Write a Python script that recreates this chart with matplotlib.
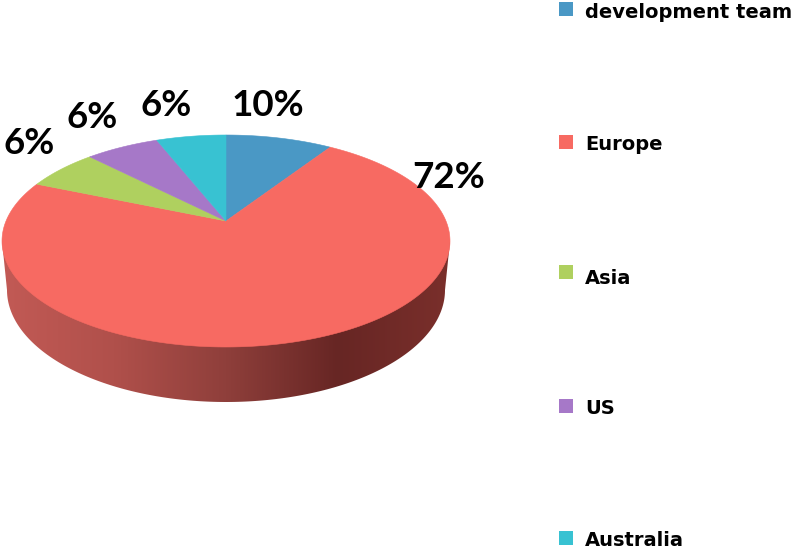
import numpy as np
import matplotlib
matplotlib.use("Agg")
import matplotlib.pyplot as plt
from matplotlib.colors import LinearSegmentedColormap
from matplotlib.patches import Polygon

categories = ["development team", "Europe", "Asia", "US", "Australia"]
# slice sizes as drawn in the picture, the printed labels differ a bit
drawn_sizes = [7.7, 76.3, 5.6, 5.4, 5.0]
pct_labels = ["10%", "72%", "6%", "6%", "6%"]
colors = ["#4A98C5", "#F76A62", "#AFD05F", "#A678C8", "#38C2D2"]

W, H = 793, 550
cx, cy, a, b = 226, 241, 224, 106
apex_y = 221
# lower rim of the wall
low_cy, low_a, low_b = 290, 219, 112

fig = plt.figure(figsize=(W / 100, H / 100), dpi=100)
ax = fig.add_axes([0, 0, 1, 1])
ax.set_xlim(0, W)
ax.set_ylim(H, 0)
ax.axis("off")

# side wall
t = np.linspace(0, np.pi, 200)
wall = np.vstack([
    [[cx + a, cy]],
    np.column_stack([cx + low_a * np.cos(t), low_cy + low_b * np.sin(t)]),
    [[cx - a, cy]],
])
shade = LinearSegmentedColormap.from_list(
    "wall", ["#C25A55", "#B0504B", "#8F3F3B", "#672624", "#7A2F2B"]
)
img = ax.imshow(
    np.linspace(0, 1, 256).reshape(1, -1),
    cmap=shade,
    extent=[cx - a, cx + a, 410, 230],
    aspect="auto",
    zorder=1,
)
img.set_clip_path(Polygon(wall, transform=ax.transData))
ax.set_xlim(0, W)
ax.set_ylim(H, 0)

# top face, clockwise from twelve o'clock
start = 90.0
for i in [0, 1, 2, 3, 4]:
    sweep = drawn_sizes[i] / sum(drawn_sizes) * 360
    ang = np.radians(np.linspace(start, start - sweep, 300))
    xs = np.r_[cx, cx + a * np.cos(ang)]
    ys = np.r_[apex_y, cy - b * np.sin(ang)]
    ax.fill(xs, ys, color=colors[i], lw=0.4, zorder=2)
    start -= sweep

# percent labels
label_pos = [(268, 106), (449, 177), (29, 143), (92, 117), (166, 106)]
for txt, (x, y) in zip(pct_labels, label_pos):
    ax.text(x, y, txt, family="Lato", weight="bold", fontsize=26.5,
            ha="center", va="center", color="black", zorder=3)

# legend
legend_y = [9, 142, 272, 406, 538]
text_y = [13, 145, 278, 408, 541]
for name, col, sy, ty in zip(categories, colors, legend_y, text_y):
    ax.scatter(566, sy, marker="s", s=110, color=col, lw=0, zorder=3, clip_on=False)
    ax.text(585, ty, name, family="DejaVu Sans", weight="bold", fontsize=14,
            ha="left", va="center", color="black", clip_on=True)

fig.savefig("out.png", dpi=100)
